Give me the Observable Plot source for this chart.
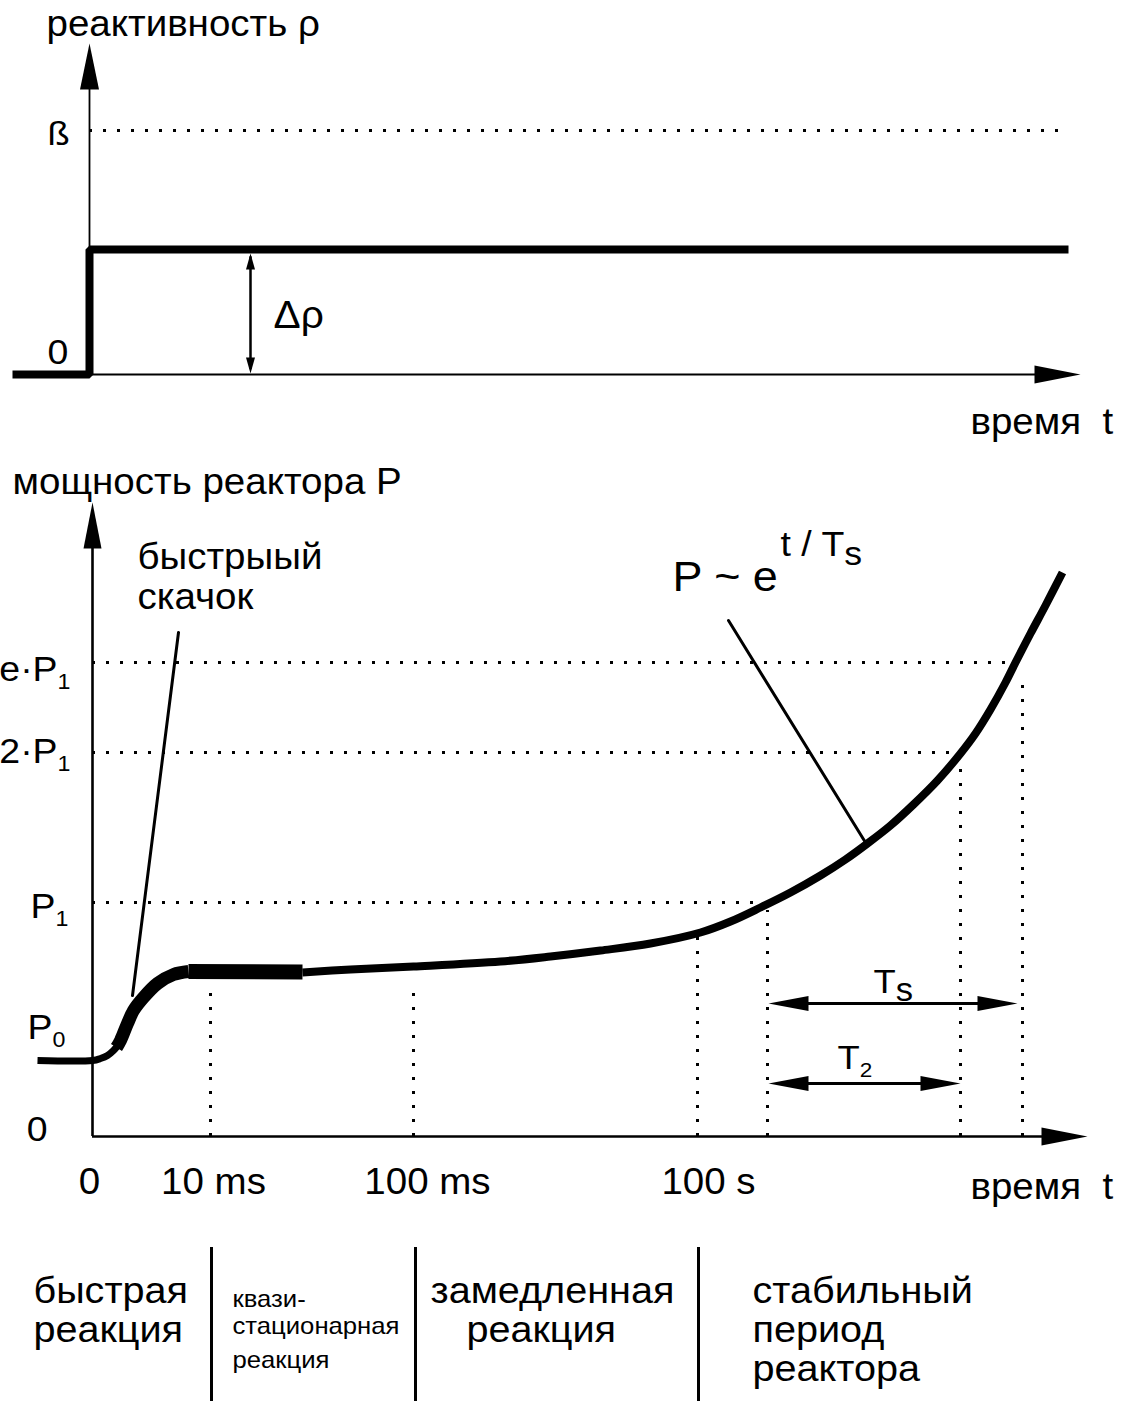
<!DOCTYPE html>
<html><head><meta charset="utf-8">
<script src="https://cdn.jsdelivr.net/npm/d3@7"></script>
<script src="https://cdn.jsdelivr.net/npm/@observablehq/plot@0.6"></script>
<style>html,body{margin:0;padding:0;background:#fff;} svg{display:block;}</style>
</head><body><div id="chart"></div>
<script>
// ================= DATA =================
// Upper panel: reactivity ρ (in units of β) against schematic time position
const rhoStepT   = [-77, 0, 0, 979];
const rhoStepVal = [0, 0, 0.512, 0.512];
const betaLevel = 1;            // ρ = β (dotted line)
const deltaRho = 0.512;         // inserted reactivity Δρ ≈ 0.51 β
const deltaRhoT = 161;          // time position of the Δρ dimension arrow
const reactivityEnd = 979;      // end of drawn reactivity lines
const rhoAxisTop = 1.357;       // tip of ρ axis
const topTimeAxisEnd = 991;     // tip of time axis

// Lower panel: reactor power P (schematic units, P0 = 0.76) against schematic time position
const timeTickPos    = [-3, 121, 335, 616];
const timeTickLabels = ["0", "10 ms", "100 ms", "100 s"];
const levelNames  = ["e·P_{1}", "2·P_{1}", "P_{1}", "P_{0}", "0"];
const levelValues = [4.74, 3.84, 2.34, 0.76, 0];
const levelReach  = [926, 868, 668];          // time where the curve reaches e·P1, 2·P1, P1
const markerTimes = [118, 321, 605, 675, 868, 930];
const markerTops  = [1.51, 1.54, 2.0, 2.26, 3.80, 4.60];
const powerAxisTop = 6.34;
const timeAxisEnd = 995;

// power curve, four pieces (steady state, prompt jump, quasi-stationary plateau, slow rise)
const steadyT = [-55, 0, 8, 15, 21, 27];
const steadyP = [0.76, 0.76, 0.78, 0.81, 0.86, 0.93];
const jumpT = [24, 28, 35, 41, 51, 65, 81, 96];
const jumpP = [0.89, 0.96, 1.13, 1.26, 1.39, 1.53, 1.62, 1.65];
const plateauT = [96, 210];
const plateauP = [1.65, 1.645];
const riseT = [210, 258, 321, 408, 458, 508, 558, 608, 638, 668, 698, 728, 753, 775, 798, 821, 845, 868, 883, 898, 913, 923, 938, 953, 970];
const riseP = [1.64, 1.67, 1.70, 1.75, 1.80, 1.86, 1.93, 2.04, 2.15, 2.29, 2.44, 2.61, 2.77, 2.93, 3.11, 3.32, 3.56, 3.83, 4.03, 4.27, 4.54, 4.74, 5.03, 5.31, 5.64];

// periods
const periodStart = 676;
const periodTsEnd = 925;
const periodT2End = 868;
const periodTsLevel = 1.33;
const periodT2Level = 0.53;

// leader lines of annotations
const jumpLeaderT = [86, 40],  jumpLeaderP = [5.04, 1.41];
const expLeaderT  = [636, 773], expLeaderP  = [5.16, 2.94];

// phases below the time axis
const phaseSeparators = [119, 323, 606];
const phaseSepTop = -1.11, phaseSepBottom = -2.65;
const phaseBig = [
  {t: -59, P: -1.66, text: "быстрая"}, {t: -59, P: -2.05, text: "реакция"},
  {t: 338, P: -1.66, text: "замедленная"}, {t: 374, P: -2.05, text: "реакция"},
  {t: 660, P: -1.66, text: "стабильный"}, {t: 660, P: -2.05, text: "период"}, {t: 660, P: -2.44, text: "реактора"}
];
const phaseSmall = [
  {t: 140, P: -1.70, text: "квази-"}, {t: 140, P: -1.97, text: "стационарная"}, {t: 140, P: -2.31, text: "реакция"}
];

// ================= DRAWING =================
const FONT = "'Liberation Sans', Arial, Helvetica, sans-serif";
const NS = "http://www.w3.org/2000/svg";
const zip = (a, b) => a.map((v, i) => ({t: v, v: b[i]}));
const head = (len, w) => ({draw(ctx) { ctx.moveTo(0, 0); ctx.lineTo(-w / 2, len); ctx.lineTo(w / 2, len); ctx.closePath(); }});
const DOT = "3,11";

// sub/superscript markup: _{x} small subscript, _[x] full-size lowered letter
function richText(svg) {
  svg.querySelectorAll("text").forEach(el => {
    const s = el.textContent;
    if (!/_[\{\[]/.test(s)) return;
    const g = el.closest("[font-size]");
    const base = parseFloat(g ? g.getAttribute("font-size") : 16);
    el.textContent = "";
    const re = /_\{([^}]*)\}|_\[([^\]]*)\]/g;
    let last = 0, m, shift = 0;
    const add = (txt, size, dy) => {
      const ts = document.createElementNS(NS, "tspan");
      ts.textContent = txt;
      if (size) ts.setAttribute("font-size", size);
      if (dy) ts.setAttribute("dy", dy);
      el.appendChild(ts);
    };
    while ((m = re.exec(s))) {
      if (m.index > last) { add(s.slice(last, m.index), null, shift ? -shift : 0); shift = 0; }
      const small = m[1] !== undefined;
      const sz = small ? base * 0.62 : base * 0.95;
      const sh = small ? base * 0.24 : base * 0.26;
      add(small ? m[1] : m[2], sz, sh - shift);
      shift = sh;
      last = re.lastIndex;
    }
    if (last < s.length) add(s.slice(last), null, shift ? -shift : 0);
  });
  return svg;
}

// the reference lettering is slightly wider than Arial: widen each text about its anchor
function widen(svg, k) {
  svg.querySelectorAll("text").forEach(el => {
    let ax = parseFloat(el.getAttribute("x")) || 0;
    const tr = el.getAttribute("transform");
    if (tr) { const m = /translate\(\s*([-\d.e]+)/.exec(tr); if (m) ax += parseFloat(m[1]); }
    const g = document.createElementNS(NS, "g");
    g.setAttribute("transform", `translate(${ax},0) scale(${k},1) translate(${-ax},0)`);
    el.parentNode.insertBefore(g, el);
    g.appendChild(el);
  });
  return svg;
}

// ---- upper panel
const topPlot = Plot.plot({
  width: 1127, height: 450, margin: 0,
  style: {fontFamily: FONT, background: "white", color: "black", overflow: "visible"},
  x: {domain: [-89, 1038], range: [0, 1127], axis: null},
  y: {domain: [-0.3115, 1.5328], range: [450, 0], axis: null},
  marks: [
    Plot.ruleY([betaLevel], {x1: 0, x2: reactivityEnd, strokeWidth: 3, strokeDasharray: DOT}),
    Plot.ruleX([0], {y1: 0, y2: rhoAxisTop - 0.1, strokeWidth: 1.8}),
    Plot.ruleY([0], {x1: 0, x2: topTimeAxisEnd - 20, strokeWidth: 1.8}),
    Plot.line(zip(rhoStepT, rhoStepVal), {x: "t", y: "v", strokeWidth: 8, strokeLinejoin: "miter", strokeLinecap: "butt"}),
    Plot.ruleX([deltaRhoT], {y1: 0.02, y2: deltaRho - 0.03, strokeWidth: 2.5}),
    Plot.dot([{t: 0, v: rhoAxisTop}], {x: "t", y: "v", r: 1, symbol: head(46, 19), fill: "black", stroke: "none"}),
    Plot.dot([{t: topTimeAxisEnd, v: 0}], {x: "t", y: "v", r: 1, rotate: 90, symbol: head(46, 18), fill: "black", stroke: "none"}),
    Plot.dot([{t: deltaRhoT, v: deltaRho - 0.016, r: 0}, {t: deltaRhoT, v: 0.004, r: 180}], {x: "t", y: "v", r: 1, rotate: "r", symbol: head(16, 9), fill: "black", stroke: "none"}),
    Plot.text(["реактивность ρ"], {x: -43, y: 1.389, text: d => d, fontSize: 36, textAnchor: "start", lineAnchor: "bottom"}),
    Plot.text(["ß"], {x: -42, y: 0.939, text: d => d, fontSize: 34, textAnchor: "start", lineAnchor: "bottom"}),
    Plot.text(["0"], {x: -42, y: 0.045, text: d => d, fontSize: 35, textAnchor: "start", lineAnchor: "bottom"}),
    Plot.text(["Δρ"], {x: 184, y: 0.189, text: d => d, fontSize: 38, textAnchor: "start", lineAnchor: "bottom"}),
    Plot.text(["время \u00a0t"], {x: 881, y: -0.242, text: d => d, fontSize: 36, textAnchor: "start", lineAnchor: "bottom"})
  ]
});

// ---- lower panel
const levels = levelNames.map((n, i) => ({name: n, v: levelValues[i], reach: levelReach[i]}));
const levelLabelPos = [
  {t: -22, v: 4.56}, {t: -22, v: 3.74}, {t: -24, v: 2.19}, {t: -27, v: 0.98}, {t: -45, v: -0.04}
];
const markers = markerTimes.map((t, i) => ({t, top: markerTops[i]}));
const ticks = timeTickPos.map((t, i) => ({t, label: timeTickLabels[i]}));

const bottomPlot = Plot.plot({
  width: 1127, height: 951, margin: 0,
  style: {fontFamily: FONT, background: "white", color: "black", overflow: "visible"},
  x: {domain: [-92, 1035], range: [0, 1127], axis: null},
  y: {domain: [-2.65, 6.86], range: [951, 0], axis: null},
  marks: [
    // reference levels and markers
    Plot.ruleY(levels.slice(0, 3), {y: "v", x1: 0, x2: "reach", strokeWidth: 3, strokeDasharray: DOT}),
    Plot.ruleX(markers, {x: "t", y1: 0, y2: "top", strokeWidth: 3, strokeDasharray: DOT}),
    // axes
    Plot.ruleX([0], {y1: 0, y2: powerAxisTop - 0.3, strokeWidth: 2.6}),
    Plot.ruleY([0], {x1: 0, x2: timeAxisEnd - 30, strokeWidth: 2.6}),
    Plot.dot([{t: 0, v: powerAxisTop}], {x: "t", y: "v", r: 1, symbol: head(46, 18), fill: "black", stroke: "none"}),
    Plot.dot([{t: timeAxisEnd, v: 0}], {x: "t", y: "v", r: 1, rotate: 90, symbol: head(46, 18), fill: "black", stroke: "none"}),
    // power curve
    Plot.line(zip(steadyT, steadyP), {x: "t", y: "v", strokeWidth: 7, curve: "catmull-rom", strokeLinecap: "butt"}),
    Plot.line(zip(jumpT, jumpP), {x: "t", y: "v", strokeWidth: 13, curve: "catmull-rom", strokeLinecap: "butt"}),
    Plot.line(zip(plateauT, plateauP), {x: "t", y: "v", strokeWidth: 15, strokeLinecap: "butt"}),
    Plot.line(zip(riseT, riseP), {x: "t", y: "v", strokeWidth: 8, curve: "catmull-rom", strokeLinecap: "butt"}),
    // leaders
    Plot.line(zip(jumpLeaderT, jumpLeaderP), {x: "t", y: "v", strokeWidth: 3}),
    Plot.line(zip(expLeaderT, expLeaderP), {x: "t", y: "v", strokeWidth: 3}),
    // periods
    Plot.ruleY([periodTsLevel], {x1: periodStart + 20, x2: periodTsEnd - 20, strokeWidth: 3}),
    Plot.ruleY([periodT2Level], {x1: periodStart + 20, x2: periodT2End - 20, strokeWidth: 3}),
    Plot.dot([{t: periodStart, v: periodTsLevel}, {t: periodStart, v: periodT2Level}], {x: "t", y: "v", r: 1, rotate: 270, symbol: head(40, 15), fill: "black", stroke: "none"}),
    Plot.dot([{t: periodTsEnd, v: periodTsLevel}, {t: periodT2End, v: periodT2Level}], {x: "t", y: "v", r: 1, rotate: 90, symbol: head(40, 15), fill: "black", stroke: "none"}),
    // phase separators
    Plot.ruleX(phaseSeparators, {y1: phaseSepTop, y2: phaseSepBottom, strokeWidth: 3}),
    // texts
    Plot.text(["мощность реактора P"], {x: -80, y: 6.43, text: d => d, fontSize: 36, textAnchor: "start", lineAnchor: "bottom"}),
    Plot.text([{t: 45, v: 5.68, s: "быстрыый"}, {t: 45, v: 5.28, s: "скачок"}], {x: "t", y: "v", text: "s", fontSize: 36, textAnchor: "start", lineAnchor: "bottom"}),
    Plot.text(levelNames.map((n, i) => ({n, ...levelLabelPos[i]})), {x: "t", y: "v", text: "n", fontSize: 35, textAnchor: "end", lineAnchor: "bottom"}),
    Plot.text(ticks, {x: "t", y: -0.57, text: "label", fontSize: 36, textAnchor: "middle", lineAnchor: "bottom"}),
    Plot.text(["время \u00a0t"], {x: 878, y: -0.62, text: d => d, fontSize: 36, textAnchor: "start", lineAnchor: "bottom"}),
    Plot.text(["P ~ e"], {x: 580, y: 5.46, text: d => d, fontSize: 42, textAnchor: "start", lineAnchor: "bottom"}),
    Plot.text(["t / T_[s]"], {x: 688, y: 5.81, text: d => d, fontSize: 35, textAnchor: "start", lineAnchor: "bottom"}),
    Plot.text(["T_[s]"], {x: 781, y: 1.44, text: d => d, fontSize: 34, textAnchor: "start", lineAnchor: "bottom"}),
    Plot.text(["T_{2}"], {x: 745, y: 0.68, text: d => d, fontSize: 34, textAnchor: "start", lineAnchor: "bottom"}),
    Plot.text(phaseBig, {x: "t", y: "P", text: "text", fontSize: 37, textAnchor: "start", lineAnchor: "bottom"}),
    Plot.text(phaseSmall, {x: "t", y: "P", text: "text", fontSize: 24, textAnchor: "start", lineAnchor: "bottom"})
  ]
});

const chart = document.getElementById("chart");
chart.appendChild(widen(richText(topPlot), 1.07));
chart.appendChild(widen(richText(bottomPlot), 1.07));
</script>
</body></html>
